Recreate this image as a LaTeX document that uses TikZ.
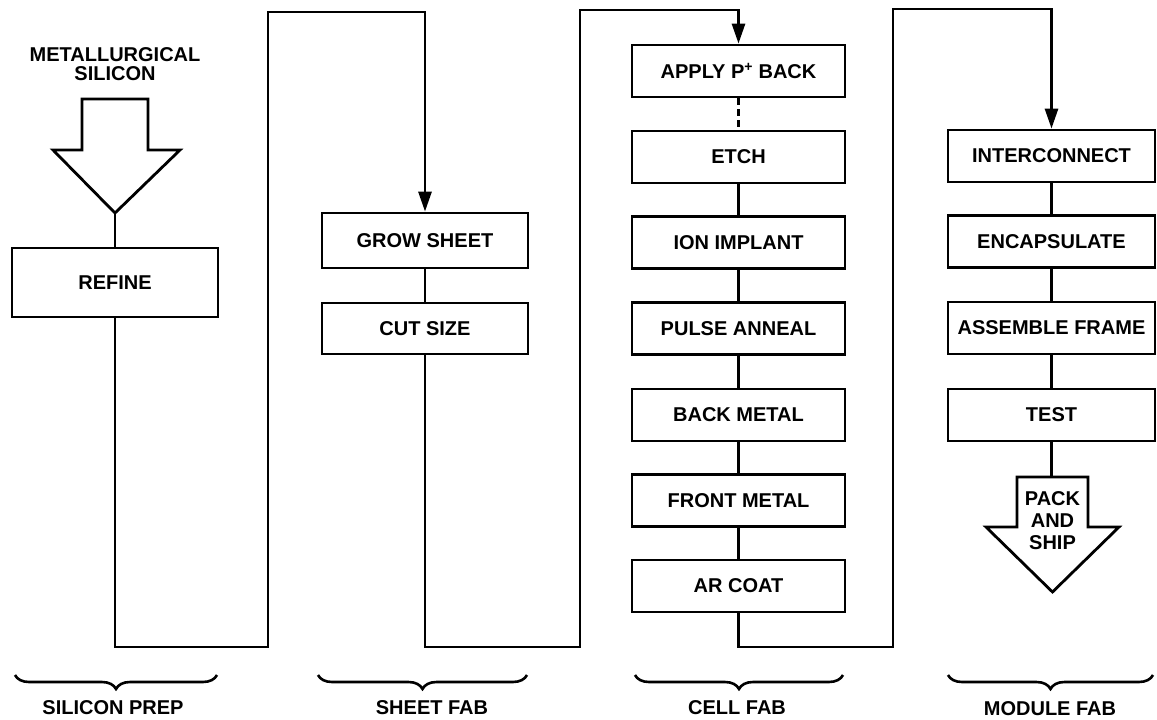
\documentclass[tikz,border=0pt]{standalone}
\usepackage{fontspec}
\setmainfont{Liberation Sans}
\usetikzlibrary{arrows.meta,decorations.pathreplacing}
\begin{document}
\begin{tikzpicture}[x=1pt,y=-1pt,
  line width=2.8pt,
  lbl/.style={font=\fontsize{20pt}{19pt}\selectfont\bfseries},
  pbox/.style={draw,lbl,inner sep=0pt,minimum width=206pt,minimum height=52pt},
  cbox/.style={pbox,minimum width=213pt},
  mbox/.style={pbox,minimum width=207pt},
  flow/.style={-{Triangle[length=20pt,width=13pt]}},
  brc/.style={decorate,decoration={brace,mirror,amplitude=14pt},line width=2.6pt}]
\useasboundingbox (0,0) rectangle (1157,720);

% silicon prep
\node[lbl,align=center] (metsil) at (115,64) {METALLURGICAL\\SILICON};
\draw (82,99) -- (148,99) -- (148,150) -- (180,150) -- (115,213) -- (53,150) -- (82,150) -- cycle;
\coordinate (intip) at (115,213);
\node[pbox,minimum height=69pt] (refine) at (115,282.5) {REFINE};
\draw (intip) -- (refine.north);

% sheet fab
\node[pbox,minimum height=55pt] (grow) at (425,240.5) {GROW SHEET};
\node[pbox,minimum height=51pt] (cut) at (425,328.5) {CUT SIZE};
\draw (grow) -- (cut);

% cell fab
\node[cbox] (apply) at (738.5,71) {APPLY P\textsuperscript{+} BACK};
\node[cbox] (etch) at (738.5,157) {ETCH};
\node[cbox] (ion) at (738.5,242.5) {ION IMPLANT};
\node[cbox] (pulse) at (738.5,328.5) {PULSE ANNEAL};
\node[cbox] (backm) at (738.5,415) {BACK METAL};
\node[cbox] (frontm) at (738.5,500.5) {FRONT METAL};
\node[cbox] (arcoat) at (738.5,586) {AR COAT};
\draw[dashed,dash pattern=on 7pt off 4pt] (apply) -- (etch);
\draw (etch) -- (ion);
\draw (ion) -- (pulse);
\draw (pulse) -- (backm);
\draw (backm) -- (frontm);
\draw (frontm) -- (arcoat);

% module fab
\node[mbox] (inter) at (1051.5,156) {INTERCONNECT};
\node[mbox] (encap) at (1051.5,241.5) {ENCAPSULATE};
\node[mbox] (frame) at (1051.5,328) {ASSEMBLE FRAME};
\node[mbox] (test) at (1051.5,415) {TEST};
\draw (inter) -- (encap);
\draw (encap) -- (frame);
\draw (frame) -- (test);
\draw (1017,477) -- (1088,477) -- (1088,527) -- (1119,527) -- (1052.5,592) -- (986,527) -- (1017,527) -- cycle;
\coordinate (packtop) at (1051.5,477);
\node[lbl,align=center,font=\fontsize{20pt}{22pt}\selectfont\bfseries] (pack) at (1052.5,521) {PACK\\AND\\SHIP};
\draw (test.south) -- (packtop);

% flow between stages
\coordinate (b1) at (268,647);
\coordinate (t1) at (268,12);
\coordinate (b2) at (580,647);
\coordinate (t2) at (580,10);
\coordinate (b3) at (893,647);
\coordinate (t3) at (893,9);
\draw[flow] (refine.south) |- (b1) -- (t1) -| (grow.north);
\draw[flow] (cut.south) |- (b2) -- (t2) -| (apply.north);
\draw[flow] (arcoat.south) |- (b3) -- (t3) -| (inter.north);

% braces and stage labels
\draw[brc] (15,675) -- (217,675);
\draw[brc] (318,675) -- (527,675);
\draw[brc] (635,675) -- (843,675);
\draw[brc] (948,675) -- (1153,675);
\node[lbl] (sprep) at (113,708) {SILICON PREP};
\node[lbl] (sfab) at (432,708) {SHEET FAB};
\node[lbl] (cfab) at (737,708) {CELL FAB};
\node[lbl] (mfab) at (1050,709) {MODULE FAB};
\end{tikzpicture}
\end{document}
